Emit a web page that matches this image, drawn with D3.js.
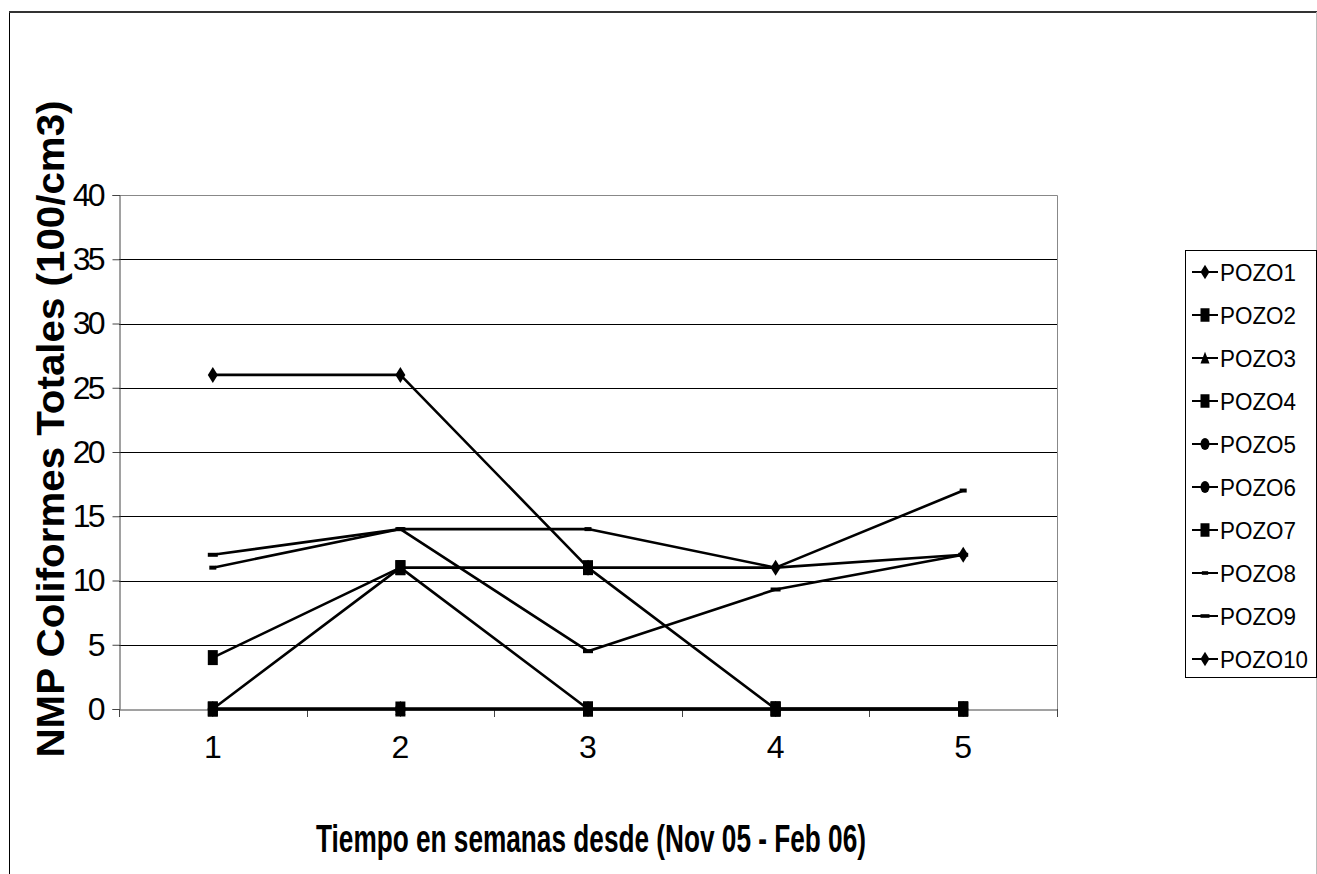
<!DOCTYPE html>
<html>
<head>
<meta charset="utf-8">
<script src="https://cdn.jsdelivr.net/npm/d3@7"></script>
<style>
  body { margin: 0; background: #fff; }
  text { font-family: "Liberation Sans", Arial, sans-serif; fill: #000; }
</style>
</head>
<body>
<div id="chart"></div>
<script>
(function() {
  'use strict';

  // semanas (eje x)
  var weeks = [1, 2, 3, 4, 5];
  var yTicks = [0, 5, 10, 15, 20, 25, 30, 35, 40];

  var seriesNames = ['POZO1', 'POZO2', 'POZO3', 'POZO4', 'POZO5',
                     'POZO6', 'POZO7', 'POZO8', 'POZO9', 'POZO10'];

  var pozo1  = [26, 26, 11, 11, 12];
  var pozo2  = [0, 0, 0, 0, 0];
  var pozo3  = [0, 0, 0, 0, 0];
  var pozo4  = [0, 11, 0, 0, 0];
  var pozo5  = [0, 0, 0, 0, 0];
  var pozo6  = [0, 0, 0, 0, 0];
  var pozo7  = [4, 11, 11, 0, 0];
  var pozo8  = [11, 14, 14, 11, 17];
  var pozo9  = [12, 14, 4.5, 9.3, 12];
  var pozo10 = [0, 0, 0, 0, 0];

  var values = [pozo1, pozo2, pozo3, pozo4, pozo5, pozo6, pozo7, pozo8, pozo9, pozo10];

  var markers = ['diamond', 'square', 'triangle', 'square', 'circle',
                 'circle', 'square', 'dashS', 'dashL', 'diamond'];

  var W = 1317, H = 874;
  var plot = { left: 119, right: 1057, top: 195, bottom: 709 };

  var svg = d3.select('#chart').append('svg')
    .attr('width', W)
    .attr('height', H);

  // outer frame
  svg.append('path')
    .attr('d', 'M9.5,' + (H + 5) + 'V12H1316')
    .attr('fill', 'none')
    .attr('stroke', '#000')
    .attr('stroke-width', 1);
  svg.append('line')
    .attr('x1', 9).attr('x2', 1317).attr('y1', 12).attr('y2', 12)
    .attr('stroke', '#333').attr('stroke-width', 2);
  svg.append('line')
    .attr('x1', 1316.5).attr('x2', 1316.5).attr('y1', 12).attr('y2', H)
    .attr('stroke', '#bbb').attr('stroke-width', 1);

  var x = d3.scaleBand()
    .domain(weeks)
    .range([plot.left, plot.right])
    .padding(0);

  var y = d3.scaleLinear()
    .domain([0, 40])
    .range([plot.bottom, plot.top]);

  function cx(d) { return x(d) + x.bandwidth() / 2; }

  /* ------- GRID ------- */
  svg.append('g').selectAll('line')
    .data(yTicks.filter(function(t) { return t > 0 && t < 40; }))
    .enter().append('line')
    .attr('x1', plot.left).attr('x2', plot.right)
    .attr('y1', function(d) { return Math.round(y(d)) + 0.5; })
    .attr('y2', function(d) { return Math.round(y(d)) + 0.5; })
    .attr('stroke', '#000')
    .attr('stroke-width', 1);

  // plot border top & right
  svg.append('path')
    .attr('d', 'M' + plot.left + ',' + (plot.top + 0.5) + 'H' + (plot.right + 0.5) + 'V' + plot.bottom)
    .attr('fill', 'none')
    .attr('stroke', '#888')
    .attr('stroke-width', 1);

  /* ------- AXES ------- */
  var yAxis = d3.axisLeft(y)
    .tickValues(yTicks)
    .tickSize(7)
    .tickPadding(6);

  var gy = svg.append('g')
    .attr('transform', 'translate(' + (plot.left + 0.5) + ',0)')
    .call(yAxis);
  gy.select('.domain').attr('stroke', '#444');
  gy.selectAll('.tick line').attr('stroke', '#444');

  // tick labels: digits packed tight like the original, one tspan per digit
  gy.selectAll('.tick text').each(function(d) {
    var t = d3.select(this)
      .style('font-family', '"Liberation Sans", Arial, sans-serif')
      .style('font-size', '32px')
      .attr('text-anchor', 'end')
      .text(null);
    var digits = String(d).split('');
    digits.forEach(function(ch, k) {
      var fromEnd = digits.length - 1 - k;
      t.append('tspan')
        .attr('x', -14 - fromEnd * 15)
        .text(ch);
    });
  });

  var xAxis = d3.axisBottom(x)
    .tickSize(0)
    .tickPadding(26);

  var gx = svg.append('g')
    .attr('transform', 'translate(0,' + (plot.bottom + 0.5) + ')')
    .call(xAxis);
  gx.select('.domain').attr('stroke', '#444');
  gx.selectAll('.tick text')
    .style('font-family', '"Liberation Sans", Arial, sans-serif')
    .style('font-size', '32px');

  // tick marks between categories
  svg.append('g').selectAll('line')
    .data(weeks)
    .enter().append('line')
    .attr('x1', function(d) { return Math.round(x(d)) + 0.5; })
    .attr('x2', function(d) { return Math.round(x(d)) + 0.5; })
    .attr('y1', plot.bottom)
    .attr('y2', plot.bottom + 8)
    .attr('stroke', '#444');
  svg.append('line')
    .attr('x1', plot.right + 0.5).attr('x2', plot.right + 0.5)
    .attr('y1', plot.bottom).attr('y2', plot.bottom + 8)
    .attr('stroke', '#444');

  /* ------- MARKER SHAPES ------- */
  function markerPath(type, s) {
    switch (type) {
      case 'diamond':
        return 'M0,' + (-8 * s) + 'L' + (5 * s) + ',0L0,' + (8 * s) + 'L' + (-5 * s) + ',0Z';
      case 'square':
        return 'M' + (-5 * s) + ',' + (-7.5 * s) + 'h' + (10 * s) + 'v' + (15 * s) + 'h' + (-10 * s) + 'Z';
      case 'triangle':
        return 'M0,' + (-7 * s) + 'L' + (5 * s) + ',' + (6 * s) + 'L' + (-5 * s) + ',' + (6 * s) + 'Z';
      case 'circle':
        return d3.arc()({ innerRadius: 0, outerRadius: 5 * s, startAngle: 0, endAngle: 2 * Math.PI });
      case 'dashS':
        return 'M' + (-3.5 * s) + ',' + (-2 * s) + 'h' + (7 * s) + 'v' + (4 * s) + 'h' + (-7 * s) + 'Z';
      case 'dashL':
        return 'M' + (-5 * s) + ',' + (-2 * s) + 'h' + (10 * s) + 'v' + (4 * s) + 'h' + (-10 * s) + 'Z';
    }
    return '';
  }

  /* ------- SERIES ------- */
  var line = d3.line()
    .x(function(d, i) { return cx(weeks[i]); })
    .y(function(d) { return y(d); });

  var series = svg.append('g').selectAll('g.series')
    .data(values)
    .enter().append('g')
    .attr('class', 'series');

  series.append('path')
    .attr('d', function(d) { return line(d); })
    .attr('fill', 'none')
    .attr('stroke', '#000')
    .attr('stroke-width', 2.6)
    .attr('stroke-linejoin', 'round');

  series.each(function(vals, si) {
    d3.select(this).selectAll('path.mk')
      .data(vals)
      .enter().append('path')
      .attr('class', 'mk')
      .attr('transform', function(d, i) {
        var sy = markers[si] === 'circle' ? 1.4 : 1;
        return 'translate(' + cx(weeks[i]) + ',' + y(d) + ') scale(1,' + sy + ')';
      })
      .attr('d', markerPath(markers[si], 1))
      .attr('fill', '#000');
  });

  /* ------- LEGEND ------- */
  var legend = svg.append('g');
  legend.append('rect')
    .attr('x', 1185.5).attr('y', 250.5)
    .attr('width', 131).attr('height', 427)
    .attr('fill', '#fff')
    .attr('stroke', '#000');

  var item = legend.selectAll('g.item')
    .data(seriesNames)
    .enter().append('g')
    .attr('class', 'item')
    .attr('transform', function(d, i) { return 'translate(0,' + (272 + i * 43) + ')'; });

  item.append('line')
    .attr('x1', 1192).attr('x2', 1218)
    .attr('stroke', '#000').attr('stroke-width', 2);

  item.append('path')
    .attr('transform', function(d, i) {
      return 'translate(1205,0) scale(0.9,' + (markers[i] === 'circle' ? 1.2 : 0.9) + ')';
    })
    .attr('d', function(d, i) { return markerPath(markers[i], 1); })
    .attr('fill', '#000');

  item.append('text')
    .attr('x', 1220)
    .attr('y', 9)
    .style('font-size', '23px')
    .attr('textLength', function(d) { return d.length > 5 ? 88 : 76; })
    .attr('lengthAdjust', 'spacingAndGlyphs')
    .text(function(d) { return d; });

  /* ------- TITLES ------- */
  svg.append('text')
    .attr('x', 591)
    .attr('y', 852)
    .attr('text-anchor', 'middle')
    .style('font-size', '38px')
    .style('font-weight', 'bold')
    .attr('textLength', 550)
    .attr('lengthAdjust', 'spacingAndGlyphs')
    .text('Tiempo en semanas desde (Nov 05 - Feb 06)');

  svg.append('text')
    .attr('transform', 'translate(64,429) rotate(-90)')
    .attr('text-anchor', 'middle')
    .style('font-size', '39px')
    .style('font-weight', 'bold')
    .attr('textLength', 657)
    .attr('lengthAdjust', 'spacingAndGlyphs')
    .text('NMP Coliformes Totales (100/cm3)');
})();
</script>
</body>
</html>
